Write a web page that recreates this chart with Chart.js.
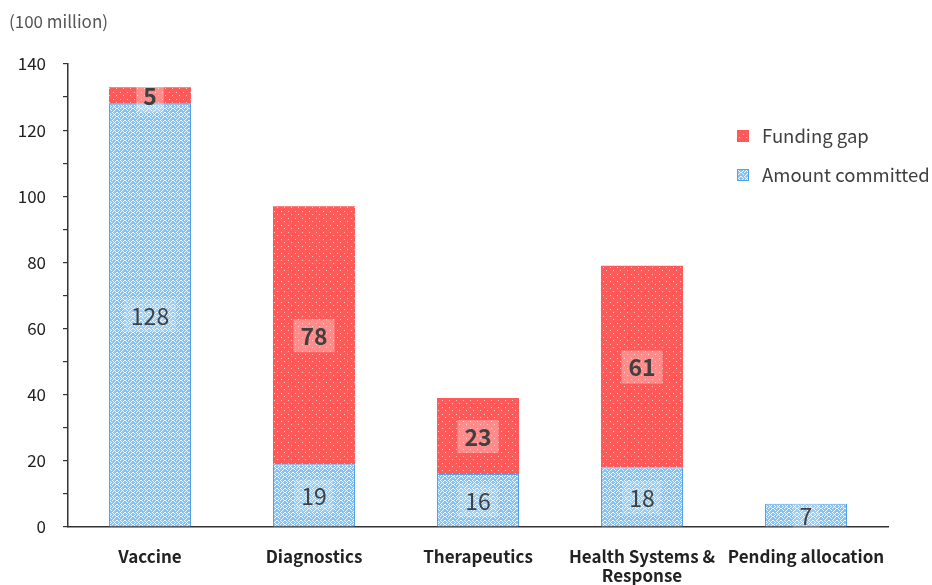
<!DOCTYPE html>
<html lang="en">
<head>
<meta charset="UTF-8">
<title>Funding by pillar</title>
<script src="https://cdn.jsdelivr.net/npm/chart.js"></script>
<style>
  html, body { margin: 0; padding: 0; background: #fff; }
  #wrap { width: 932px; height: 585px; position: relative; }
</style>
</head>
<body>
<div id="wrap"><canvas id="chart"></canvas></div>
<script>
// values in 100 million
const categories = ['Vaccine', 'Diagnostics', 'Therapeutics', ['Health Systems &', 'Response'], 'Pending allocation'];
const committed = [128, 19, 16, 18, 7];
const fundingGap = [5, 78, 23, 61, null];
const yTicks = [0, 20, 40, 60, 80, 100, 120, 140];

const FONT = '"Noto Sans CJK JP", "Noto Sans", sans-serif';
const TEXT = '#404040';

function makeTile(w, h, draw) {
    const c = document.createElement('canvas');
    c.width = w; c.height = h;
    draw(c.getContext('2d'));
    return document.createElement('canvas').getContext('2d').createPattern(c, 'repeat');
}

const redPattern = makeTile(7, 7, g => {
    g.fillStyle = '#ff5a5a';
    g.fillRect(0, 0, 7, 7);
    g.fillStyle = 'rgba(255,255,255,0.65)';
    g.fillRect(1, 1, 1, 1);
    g.fillRect(4, 4, 1, 1);
});

// pixel wave mesh, roughly like the office "wave" fill
const waveBits = [
    'X...XX..',
    '.X.X..X.',
    '..X....X',
    '.X.X..X.',
    'X...XX..',
    '...X..X.',
    '..X....X',
    '.X......'
];
const bluePattern = makeTile(8, 8, g => {
    g.fillStyle = '#86c2f6';
    g.fillRect(0, 0, 8, 8);
    g.fillStyle = 'rgba(255,255,255,0.9)';
    waveBits.forEach((row, y) => {
        for (let x = 0; x < 8; x++) if (row[x] === 'X') g.fillRect(x, y, 1, 1);
    });
});

// value labels on a light box in the middle of each segment
const segmentLabels = {
    id: 'segmentLabels',
    afterDatasetsDraw(chart) {
        const ctx = chart.ctx;
        ctx.save();
        chart.data.datasets.forEach((ds, di) => {
            const meta = chart.getDatasetMeta(di);
            meta.data.forEach((el, i) => {
                const v = ds.data[i];
                if (v == null) return;
                const cy = (el.y + el.base) / 2;
                ctx.font = (di === 1 ? 'bold ' : '') + '23px ' + FONT;
                const tw = ctx.measureText(String(v)).width;
                ctx.fillStyle = di === 1 ? 'rgba(255,255,255,0.3)' : 'rgba(255,255,255,0.18)';
                ctx.fillRect(el.x - tw / 2 - 7, cy - 16, tw + 14, 33);
                ctx.fillStyle = TEXT;
                ctx.textAlign = 'center';
                ctx.textBaseline = 'middle';
                ctx.fillText(String(v), el.x, cy + 1);
            });
        });
        ctx.restore();
    }
};

// legend inside the plot, unit label at top-left
const extras = {
    id: 'extras',
    afterDraw(chart) {
        const ctx = chart.ctx;
        ctx.save();
        ctx.font = '17px ' + FONT;
        ctx.fillStyle = '#555';
        ctx.textBaseline = 'middle';
        ctx.fillText('(100 million)', 9, 22);

        const items = [
            { label: 'Funding gap', fill: redPattern, border: '#ff5a5a', y: 136 },
            { label: 'Amount committed', fill: bluePattern, border: '#4ea2ee', y: 175 }
        ];
        ctx.font = '18.5px ' + FONT;
        items.forEach(it => {
            ctx.fillStyle = it.fill;
            ctx.fillRect(737, it.y - 6, 12, 12);
            ctx.strokeStyle = it.border;
            ctx.lineWidth = 1;
            ctx.strokeRect(737.5, it.y - 5.5, 11, 11);
            ctx.fillStyle = TEXT;
            ctx.fillText(it.label, 762, it.y);
        });
        ctx.restore();
    }
};

new Chart(document.getElementById('chart'), {
    type: 'bar',
    data: {
        labels: categories,
        datasets: [
            {
                label: 'Amount committed',
                data: committed,
                backgroundColor: bluePattern,
                borderColor: '#4ea2ee',
                borderWidth: 1
            },
            {
                label: 'Funding gap',
                data: fundingGap,
                backgroundColor: redPattern,
                borderWidth: 0
            }
        ]
    },
    options: {
        responsive: true,
        maintainAspectRatio: false,
        animation: false,
        layout: { padding: { left: 0, right: 44, top: 64, bottom: 0 } },
        plugins: {
            legend: { display: false },
            tooltip: { enabled: false }
        },
        datasets: {
            bar: { categoryPercentage: 1, barPercentage: 0.5 }
        },
        scales: {
            x: {
                stacked: true,
                grid: { display: false },
                border: { display: true, color: '#333', width: 1.5 },
                ticks: {
                    color: '#222',
                    padding: 12,
                    maxRotation: 0,
                    autoSkip: false,
                    font: { family: FONT, size: 17, weight: 'bold', lineHeight: 1.1 }
                },
                afterFit(scale) { scale.height = 58; }
            },
            y: {
                stacked: true,
                min: 0,
                max: 140,
                grid: { drawOnChartArea: false, drawTicks: true, tickLength: 5, color: '#333', lineWidth: 1.2 },
                border: { display: true, color: '#333', width: 1.5 },
                ticks: {
                    stepSize: 10,
                    color: '#222',
                    padding: 17,
                    font: { family: FONT, size: 17 },
                    callback: v => yTicks.includes(v) ? String(v) : ''
                },
                afterFit(scale) { scale.width = 68; }
            }
        }
    },
    plugins: [segmentLabels, extras]
});
</script>
</body>
</html>
